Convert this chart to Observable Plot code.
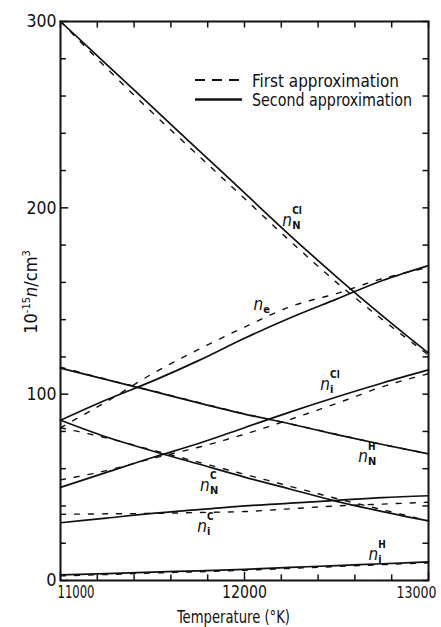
<!DOCTYPE html>
<html><head><meta charset="utf-8">
<script src="https://cdn.jsdelivr.net/npm/d3@7"></script>
<script src="https://cdn.jsdelivr.net/npm/@observablehq/plot@0.6"></script>
<style>
html,body{margin:0;padding:0;background:#fff;}
#wrap{position:relative;width:441px;height:627px;}
#legend{position:absolute;left:0;top:0;}
</style></head><body><div id="wrap"></div>
<script>
// Temperature (°K)
const temps = [11000, 11250, 11500, 11750, 12000, 12250, 12500, 12750, 13000];

// Second approximation (solid), 10^15 n / cm^3
const nNCl2 = [300, 277, 254, 231, 208, 185, 163, 142, 122];
const ne2   = [86, 97, 107, 118, 130, 141, 151, 161, 169];
const niCl2 = [50, 58, 66, 73.5, 82, 90.5, 98.5, 106, 113];
const nNH2  = [114, 107.8, 101.6, 95.3, 89.3, 84, 78.3, 73, 68];
const nNC2  = [86, 77, 69.5, 62.5, 55.5, 49, 42.5, 37, 32];
const niC2  = [31, 33.5, 36, 38, 40, 41.5, 43, 44.5, 45.5];
const niH2  = [3, 3.7, 4.5, 5.2, 6, 7, 8, 9, 10];

// First approximation (dashed)
const nNCl1 = [300, 275, 251, 228, 205, 182, 160, 140, 121];
const ne1   = [82, 96, 111, 124, 136, 147, 154, 162, 168];
const niCl1 = [54, 59, 65.5, 71.5, 78.5, 86.5, 95, 104, 111];
const nNH1  = [114.5, 108, 101.8, 95.5, 89.5, 84, 78.5, 73, 68];
const nNC1  = [82, 76.5, 70, 63.5, 57, 50.5, 44, 38, 32];
const niC1  = [35.5, 35.8, 36, 36.5, 37, 38.5, 40, 41, 42];
const niH1  = [2.5, 3.2, 4, 4.7, 5.5, 6.5, 7.5, 8.5, 9.5];

// Axis tick labels
const xTickLabels = [11000, 12000, 13000];
const yTickLabels = [0, 100, 200, 300];
const xMinorTicks = d3.range(11000, 13001, 200);
const yMinorTicks = d3.range(0, 301, 20);

// Curve labels: n with superscript / subscript
const labelNames = ["nNCl", "ne", "niCl", "nNH", "nNC", "niC", "niH"];
const labelT     = [12232, 12075, 12438, 12644, 11785, 11769, 12700];
const labelV     = [190, 145, 102, 63.4, 48, 26, 10.8];
const labelSup   = ["Cl", "", "Cl", "H", "C", "C", "H"];
const labelSub   = ["N", "e", "i", "N", "N", "i", "i"];

const xLabel = "Temperature (°K)";
const legendItems = ["First approximation", "Second approximation"];

const FONT = "'DejaVu Sans Condensed','DejaVu Sans',sans-serif";
const INK = "#111";

const rows = [];
function add(name, approx, vals) { vals.forEach((v, i) => rows.push({name, approx, T: temps[i], v})); }
add("nNCl", "first", nNCl1); add("ne", "first", ne1); add("niCl", "first", niCl1);
add("nNH", "first", nNH1); add("nNC", "first", nNC1); add("niC", "first", niC1); add("niH", "first", niH1);
add("nNCl", "second", nNCl2); add("ne", "second", ne2); add("niCl", "second", niCl2);
add("nNH", "second", nNH2); add("nNC", "second", nNC2); add("niC", "second", niC2); add("niH", "second", niH2);

const labels = labelNames.map((name, i) => ({name, T: labelT[i], v: labelV[i], sup: labelSup[i], sub: labelSub[i]}));

const chart = Plot.plot({
  width: 441, height: 627,
  marginLeft: 60, marginRight: 13, marginTop: 21, marginBottom: 47,
  x: {domain: [11000, 13000], axis: null},
  y: {domain: [0, 300], axis: null},
  style: {fontFamily: FONT, background: "#fff", color: INK},
  marks: [
    Plot.line(rows.filter(d => d.approx === "first"), {x: "T", y: "v", z: "name", stroke: INK, strokeWidth: 1.4, strokeDasharray: "5,9", curve: "monotone-x"}),
    Plot.line(rows.filter(d => d.approx === "second"), {x: "T", y: "v", z: "name", stroke: INK, strokeWidth: 1.7, curve: "monotone-x"}),
    // inward ticks
    Plot.ruleX(xMinorTicks, {x: d => d, y1: 0, y2: d => d % 1000 === 0 ? 4.5 : 3, stroke: INK, strokeWidth: 1.5}),
    Plot.ruleX(xMinorTicks, {x: d => d, y1: 300, y2: 296.5, stroke: INK, strokeWidth: 1.5}),
    Plot.ruleY(yMinorTicks, {y: d => d, x1: 11000, x2: d => d % 100 === 0 ? 11045 : 11032, stroke: INK, strokeWidth: 1.5}),
    Plot.ruleY(yMinorTicks, {y: d => d, x1: 13000, x2: 12970, stroke: INK, strokeWidth: 1.5}),
    Plot.frame({stroke: INK, strokeWidth: 2}),
    // tick labels
    Plot.text(yTickLabels, {frameAnchor: "left", y: d => d, text: d => String(d), textAnchor: "end", dx: -4, fontSize: 18, fill: INK}),
    Plot.text(xTickLabels.slice(0, 1), {x: d => d, frameAnchor: "bottom", text: d => String(d), textAnchor: "start", lineAnchor: "bottom", dx: -3, dy: 17, fontSize: 17, fill: INK}),
    Plot.text(xTickLabels.slice(1, -1), {x: d => d, frameAnchor: "bottom", text: d => String(d), textAnchor: "middle", lineAnchor: "bottom", dy: 17, fontSize: 17, fill: INK}),
    Plot.text(xTickLabels.slice(-1), {x: d => d, frameAnchor: "bottom", text: d => String(d), textAnchor: "middle", lineAnchor: "bottom", dx: -12, dy: 17, fontSize: 15, fill: INK}),
    // x axis title
    Plot.text([xLabel], {frameAnchor: "bottom", text: d => d, lineAnchor: "bottom", dx: -11, dy: 42, fontSize: 17, fill: INK}),
    // curve labels
    Plot.text(labels, {x: "T", y: "v", text: () => "n", textAnchor: "middle", lineAnchor: "bottom", fontSize: 17, fontStyle: "italic", fill: INK}),
    Plot.text(labels, {x: "T", y: "v", text: "sup", textAnchor: "start", lineAnchor: "bottom", dx: 5, dy: -12, fontSize: 10, fontWeight: "bold", fill: INK}),
    Plot.text(labels, {x: "T", y: "v", text: "sub", textAnchor: "start", lineAnchor: "bottom", dx: 5, dy: 3, fontSize: 11, fontWeight: "bold", fill: INK})
  ]
});

// narrow lettering: fit texts to the widths seen in the reference
const fitWidths = {"Temperature (°K)": 113, "11000": 37, "12000": 45, "13000": 40, "300": 30, "200": 30, "100": 30};
chart.querySelectorAll("text").forEach(t => {
  const w = fitWidths[t.textContent];
  if (w) { t.setAttribute("textLength", w); t.setAttribute("lengthAdjust", "spacingAndGlyphs"); }
});

const wrap = document.getElementById("wrap");
wrap.appendChild(chart);

// Overlay: legend (inside plot, upper right) and y-axis title with super/subscripts
const ns = "http://www.w3.org/2000/svg";
const lg = document.createElementNS(ns, "svg");
lg.setAttribute("id", "legend");
lg.setAttribute("width", 441);
lg.setAttribute("height", 627);
const entries = [
  {label: legendItems[0], y: 80, dash: "10,7", w: 1.8, ty: 86.5, len: 147},
  {label: legendItems[1], y: 99.5, dash: null, w: 2.4, ty: 106, len: 160}
];
for (const e of entries) {
  const ln = document.createElementNS(ns, "line");
  ln.setAttribute("x1", 195); ln.setAttribute("x2", 242);
  ln.setAttribute("y1", e.y); ln.setAttribute("y2", e.y);
  ln.setAttribute("stroke", INK); ln.setAttribute("stroke-width", e.w);
  if (e.dash) ln.setAttribute("stroke-dasharray", e.dash);
  lg.appendChild(ln);
  const tx = document.createElementNS(ns, "text");
  tx.setAttribute("x", 252); tx.setAttribute("y", e.ty);
  tx.setAttribute("font-family", FONT);
  tx.setAttribute("font-size", 17);
  tx.setAttribute("fill", INK);
  tx.setAttribute("textLength", e.len);
  tx.setAttribute("lengthAdjust", "spacingAndGlyphs");
  tx.textContent = e.label;
  lg.appendChild(tx);
}
// y title: 10^-15 n/cm^3
const yt = document.createElementNS(ns, "text");
yt.setAttribute("transform", "translate(37,292) rotate(-90)");
yt.setAttribute("text-anchor", "middle");
yt.setAttribute("font-family", FONT);
yt.setAttribute("font-size", 18);
yt.setAttribute("fill", INK);
const parts = [
  {t: "10", size: 18},
  {t: "-15", size: 11, shift: 7},
  {t: "n", size: 18, italic: true, shift: -7},
  {t: "/cm", size: 18},
  {t: "3", size: 11, shift: 7}
];
for (const p of parts) {
  const ts = document.createElementNS(ns, "tspan");
  ts.setAttribute("font-size", p.size);
  if (p.shift) ts.setAttribute("dy", -p.shift);
  if (p.italic) ts.setAttribute("font-style", "italic");
  ts.textContent = p.t;
  yt.appendChild(ts);
}
lg.appendChild(yt);
wrap.appendChild(lg);
</script>
</body></html>
